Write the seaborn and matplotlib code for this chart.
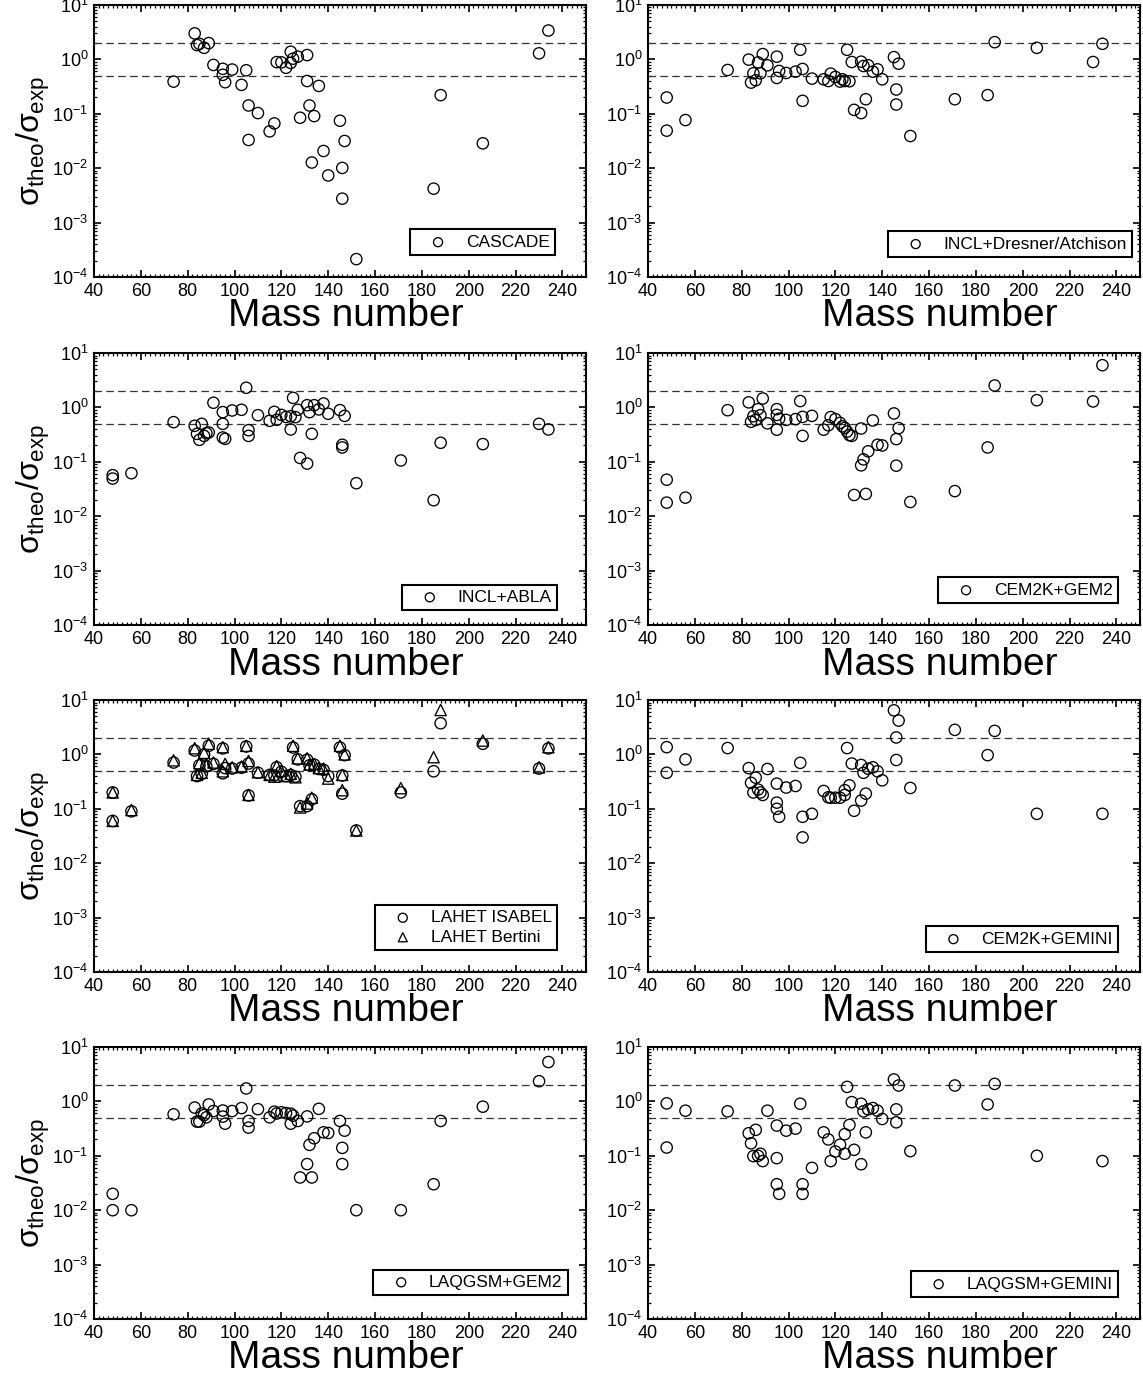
"""
Ratio of calculated to measured cross sections vs. mass number, 8 code panels.
"""

import matplotlib
matplotlib.use("Agg")
import matplotlib.pyplot as plt
import pandas as pd
import seaborn as sns
from matplotlib.ticker import MultipleLocator, LogLocator, LogFormatterSciNotation, NullFormatter

sns.set_style("ticks")
plt.rcParams['font.family'] = ['Liberation Sans', 'DejaVu Sans']
plt.rcParams['mathtext.fontset'] = 'custom'
plt.rcParams['mathtext.rm'] = 'Liberation Sans'
plt.rcParams['mathtext.it'] = 'Liberation Sans'
plt.rcParams['mathtext.sf'] = 'Liberation Sans'
for key in ('text.color', 'axes.labelcolor', 'xtick.color', 'ytick.color', 'axes.edgecolor'):
    plt.rcParams[key] = 'black'

# ---- data ----
a_cascade = [74, 83, 84, 85, 87, 89, 91, 95, 95, 96, 99, 103, 105, 106, 106, 110, 115, 117, 118, 120,
             122, 124, 124, 125, 127, 128, 131, 131, 132, 133, 134, 136, 138, 140, 145, 146, 146, 147, 152, 185,
             188, 206, 230, 234]
r_cascade = [0.39, 3.0, 1.83, 1.93, 1.63, 1.99, 0.79, 0.67, 0.52, 0.38, 0.65, 0.34, 0.63, 0.142, 0.033, 0.103, 0.0475, 0.0665, 0.89, 0.88,
             0.70, 1.38, 0.86, 1.03, 1.12, 0.0845, 1.2, 0.40, 0.142, 0.0127, 0.0906, 0.325, 0.0207, 0.00734, 0.0745, 0.0101, 0.00275, 0.0316, 0.000213, 0.0042,
             0.22, 0.0286, 1.29, 3.39]

a_dresner = [48, 48, 56, 74, 83, 84, 85, 86, 87, 88, 89, 91, 95, 95, 96, 99, 103, 105, 106, 106,
             110, 115, 117, 118, 120, 122, 123, 124, 125, 126, 127, 128, 131, 131, 132, 133, 134, 136, 138, 140,
             145, 146, 146, 147, 152, 171, 185, 188, 206, 230, 234]
r_dresner = [0.199, 0.0489, 0.0766, 0.638, 0.99, 0.374, 0.555, 0.413, 0.88, 0.555, 1.25, 0.777, 1.12, 0.456, 0.612, 0.562, 0.595, 1.5, 0.666, 0.173,
             0.443, 0.43, 0.40, 0.547, 0.475, 0.39, 0.43, 0.40, 1.5, 0.396, 0.894, 0.118, 0.906, 0.103, 0.755, 0.185, 0.777, 0.595, 0.656, 0.43,
             1.1, 0.279, 0.148, 0.833, 0.039, 0.185, 0.22, 2.07, 1.63, 0.894, 1.93]

a_abla = [48, 48, 56, 74, 83, 84, 85, 86, 87, 88, 89, 91, 95, 95, 95, 96, 99, 103, 105, 106,
          106, 110, 115, 117, 118, 120, 122, 124, 124, 125, 126, 127, 128, 131, 131, 132, 133, 134, 136, 138,
          140, 145, 146, 146, 147, 152, 171, 185, 188, 206, 230, 234]
r_abla = [0.0569, 0.0493, 0.0618, 0.537, 0.46, 0.327, 0.254, 0.5, 0.30, 0.336, 0.347, 1.22, 0.82, 0.5, 0.28, 0.265, 0.88, 0.906, 2.3, 0.382,
          0.30, 0.72, 0.568, 0.83, 0.593, 0.73, 0.67, 0.69, 0.394, 1.5, 0.664, 0.906, 0.118, 1.1, 0.093, 0.82, 0.327, 1.1, 0.92, 1.18,
          0.765, 0.893, 0.206, 0.184, 0.70, 0.0405, 0.106, 0.0197, 0.224, 0.212, 0.5, 0.394]

a_cem_gem2 = [48, 48, 56, 74, 83, 84, 85, 86, 87, 88, 89, 91, 95, 95, 95, 96, 99, 103, 105, 106,
              106, 110, 115, 117, 118, 120, 122, 123, 124, 125, 126, 127, 128, 131, 131, 132, 133, 134, 136, 138,
              140, 145, 146, 146, 147, 152, 171, 185, 188, 206, 230, 234]
r_cem_gem2 = [0.047, 0.0178, 0.022, 0.89, 1.24, 0.545, 0.69, 0.59, 0.93, 0.72, 1.46, 0.51, 0.93, 0.73, 0.39, 0.62, 0.59, 0.61, 1.31, 0.67,
              0.30, 0.70, 0.39, 0.47, 0.665, 0.61, 0.52, 0.45, 0.42, 0.36, 0.31, 0.30, 0.0246, 0.41, 0.0863, 0.111, 0.0257, 0.156, 0.577, 0.206,
              0.2, 0.776, 0.262, 0.085, 0.417, 0.0183, 0.029, 0.184, 2.53, 1.36, 1.29, 5.98]

a_lahet = [48, 48, 56, 74, 83, 84, 85, 86, 87, 88, 89, 91, 95, 95, 96, 99, 103, 105, 106, 106,
           110, 115, 117, 118, 120, 122, 124, 125, 126, 127, 128, 131, 131, 132, 133, 134, 136, 138, 140, 145,
           146, 146, 147, 152, 171, 185, 188, 206, 230, 234]
r_isabel = [0.2, 0.06, 0.09, 0.71, 1.18, 0.40, 0.63, 0.44, 1.0, 0.6, 1.44, 0.67, 1.29, 0.45, 0.56, 0.55, 0.57, 1.4, 0.68, 0.176,
            0.46, 0.42, 0.41, 0.58, 0.48, 0.40, 0.42, 1.34, 0.39, 0.81, 0.112, 0.8, 0.112, 0.63, 0.15, 0.65, 0.54, 0.52, 0.4, 1.34,
            0.41, 0.19, 0.97, 0.04, 0.2, 0.49, 3.74, 1.57, 0.55, 1.29]
r_bertini = [0.2, 0.06, 0.095, 0.78, 1.3, 0.42, 0.69, 0.46, 1.07, 0.63, 1.57, 0.71, 1.36, 0.49, 0.67, 0.58, 0.6, 1.44, 0.76, 0.18,
             0.47, 0.42, 0.39, 0.61, 0.5, 0.40, 0.44, 1.44, 0.38, 0.85, 0.106, 0.85, 0.125, 0.65, 0.16, 0.67, 0.56, 0.55, 0.36, 1.44,
             0.42, 0.22, 1.0, 0.04, 0.24, 0.89, 6.56, 1.8, 0.58, 1.36]

a_cem_gemini = [48, 48, 56, 74, 83, 84, 85, 86, 87, 88, 89, 91, 95, 95, 95, 96, 99, 103, 105, 106,
                106, 110, 115, 117, 118, 120, 122, 124, 124, 125, 126, 127, 128, 131, 131, 132, 133, 134, 136, 138,
                140, 145, 146, 146, 147, 152, 171, 185, 188, 206, 234]
r_cem_gemini = [1.36, 0.46, 0.81, 1.31, 0.56, 0.30, 0.2, 0.374, 0.226, 0.2, 0.18, 0.54, 0.29, 0.13, 0.10, 0.0714, 0.246, 0.263, 0.70, 0.0714,
                0.0299, 0.081, 0.213, 0.163, 0.16, 0.16, 0.16, 0.18, 0.22, 1.31, 0.27, 0.68, 0.092, 0.64, 0.142, 0.46, 0.19, 0.547, 0.58, 0.49,
                0.334, 6.47, 2.05, 0.79, 4.19, 0.242, 2.83, 0.97, 2.71, 0.081, 0.081]

a_laq_gem2 = [48, 48, 56, 74, 83, 84, 85, 86, 87, 88, 89, 91, 95, 95, 96, 99, 103, 105, 106, 106,
              110, 115, 117, 118, 120, 122, 124, 124, 125, 127, 128, 131, 131, 132, 133, 134, 136, 138, 140, 145,
              146, 146, 147, 152, 171, 185, 188, 206, 230, 234]
r_laq_gem2 = [0.02, 0.01, 0.01, 0.578, 0.77, 0.425, 0.425, 0.60, 0.56, 0.51, 0.88, 0.665, 0.68, 0.525, 0.39, 0.665, 0.755, 1.73, 0.437, 0.33,
              0.72, 0.51, 0.647, 0.60, 0.63, 0.61, 0.595, 0.39, 0.547, 0.437, 0.040, 0.53, 0.0704, 0.159, 0.04, 0.21, 0.73, 0.27, 0.263, 0.437,
              0.14, 0.0704, 0.29, 0.01, 0.01, 0.03, 0.437, 0.8, 2.35, 5.3]

a_laq_gemini = [48, 48, 56, 74, 83, 84, 85, 86, 87, 88, 89, 91, 95, 95, 95, 96, 99, 103, 105, 106,
                106, 110, 115, 117, 118, 120, 122, 124, 124, 125, 126, 127, 128, 131, 131, 132, 133, 134, 136, 138,
                140, 145, 146, 146, 147, 152, 171, 185, 188, 206, 234]
r_laq_gemini = [0.92, 0.142, 0.675, 0.656, 0.26, 0.17, 0.0986, 0.3, 0.1, 0.109, 0.08, 0.675, 0.36, 0.0906, 0.03, 0.02, 0.29, 0.316, 0.906, 0.03,
                0.02, 0.06, 0.27, 0.2, 0.08, 0.12, 0.16, 0.25, 0.109, 1.85, 0.37, 0.97, 0.129, 0.906, 0.07, 0.656, 0.27, 0.714, 0.755, 0.675,
                0.475, 2.53, 0.714, 0.413, 1.96, 0.122, 1.96, 0.88, 2.1, 0.1, 0.08]

# panel table: (series list, legend anchor (right, bottom) in axes coords)
panels = [
    ([(a_cascade, r_cascade, 'CASCADE', 'o')], (0.937, 0.081)),
    ([(a_dresner, r_dresner, 'INCL+Dresner/Atchison', 'o')], (0.984, 0.074)),
    ([(a_abla, r_abla, 'INCL+ABLA', 'o')], (0.941, 0.055)),
    ([(a_cem_gem2, r_cem_gem2, 'CEM2K+GEM2', 'o')], (0.955, 0.081)),
    ([(a_lahet, r_isabel, 'LAHET ISABEL', 'o'),
      (a_lahet, r_bertini, 'LAHET Bertini', '^')], (0.941, 0.081)),
    ([(a_cem_gemini, r_cem_gemini, 'CEM2K+GEMINI', 'o')], (0.955, 0.074)),
    ([(a_laq_gem2, r_laq_gem2, 'LAQGSM+GEM2', 'o')], (0.963, 0.088)),
    ([(a_laq_gemini, r_laq_gemini, 'LAQGSM+GEMINI', 'o')], (0.955, 0.081)),
]

LEFTS = [0.0822, 0.5669]
BOTTOMS = [0.7990, 0.5464, 0.2946, 0.0428]
W, H = 0.4304, 0.1974


def draw_panel(ax, series, anchor, col):
    for a, r, label, marker in series:
        df = pd.DataFrame({'A': a, 'ratio': r})
        sns.scatterplot(data=df, x='A', y='ratio', ax=ax, marker=marker, s=66,
                        facecolor='none', edgecolor='black', linewidth=0.95,
                        label=label, zorder=3)

    ax.set_yscale('log')
    ax.set_xlim(40, 250)
    ax.set_ylim(1e-4, 10)

    for yv in (2.0, 0.5):
        ax.axhline(yv, color='#333333', lw=0.9, ls=(0, (6, 3.5)), zorder=2)

    ax.xaxis.set_major_locator(MultipleLocator(20))
    ax.xaxis.set_minor_locator(MultipleLocator(2))
    ax.yaxis.set_major_locator(LogLocator(base=10))
    ax.yaxis.set_minor_locator(LogLocator(base=10, subs=range(2, 10)))
    ax.yaxis.set_major_formatter(LogFormatterSciNotation())
    ax.yaxis.set_minor_formatter(NullFormatter())

    ax.tick_params(which='both', direction='in', top=True, right=True,
                   labelsize=13, pad=4, colors='black')
    ax.tick_params(which='major', length=5, width=1.2)
    ax.tick_params(which='minor', length=2.5, width=0.9)
    for sp in ax.spines.values():
        sp.set_linewidth(1.5)
        sp.set_color('black')

    ax.set_xlabel('Mass number', fontsize=28, color='black')
    ax.xaxis.label.set_va('center')
    ax.xaxis.set_label_coords(0.512 if col == 0 else 0.593, -0.145)

    if col == 0:
        ax.set_ylabel(r'$\sigma_{\rm theo}/\sigma_{\rm exp}$', fontsize=23, color='black')
        ax.yaxis.label.set_va('center')
        ax.yaxis.set_label_coords(-0.124, 0.5)
    else:
        ax.set_ylabel('')

    leg = ax.legend(loc='lower right', bbox_to_anchor=anchor, fontsize=12.5,
                    frameon=True, fancybox=False, framealpha=1, edgecolor='black',
                    borderpad=0.3, handlelength=2.6, handletextpad=0.3,
                    labelspacing=0.25, markerscale=0.8, borderaxespad=0,
                    labelcolor='black')
    leg.get_frame().set_linewidth(1.5)


fig = plt.figure(figsize=(11.43, 13.78), dpi=100)
for i, (series, anchor) in enumerate(panels):
    row, col = divmod(i, 2)
    ax = fig.add_axes([LEFTS[col], BOTTOMS[row], W, H])
    draw_panel(ax, series, anchor, col)

fig.savefig('out.png', dpi=100)
plt.close(fig)
